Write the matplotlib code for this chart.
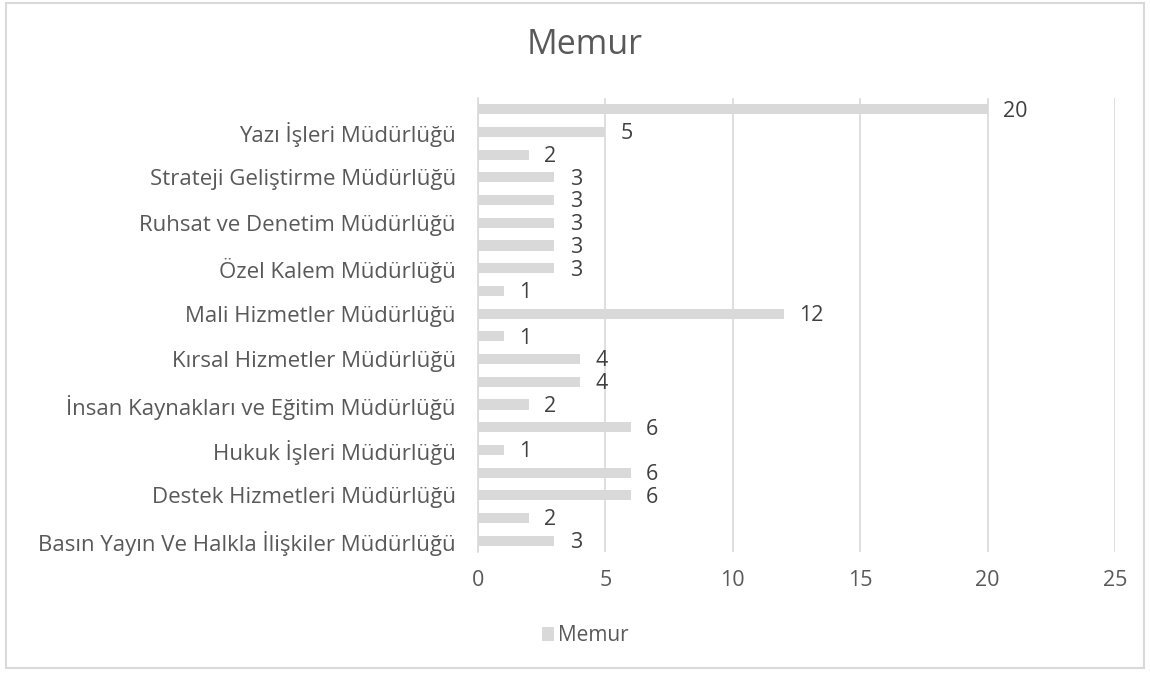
import matplotlib.pyplot as plt
from matplotlib.patches import Rectangle

# Departments, bottom to top (every second label is hidden on the axis, as in Excel)
departments = [
    'Basın Yayın Ve Halkla İlişkiler Müdürlüğü',
    'Bilgi İşlem Müdürlüğü',
    'Destek Hizmetleri Müdürlüğü',
    'Emlak ve İstimlak Müdürlüğü',
    'Hukuk İşleri Müdürlüğü',
    'İmar ve Şehircilik Müdürlüğü',
    'İnsan Kaynakları ve Eğitim Müdürlüğü',
    'Kadın ve Aile Hizmetleri Müdürlüğü',
    'Kırsal Hizmetler Müdürlüğü',
    'Kültür ve Sosyal İşler Müdürlüğü',
    'Mali Hizmetler Müdürlüğü',
    'Muhtarlık İşleri Müdürlüğü',
    'Özel Kalem Müdürlüğü',
    'Park ve Bahçeler Müdürlüğü',
    'Ruhsat ve Denetim Müdürlüğü',
    'Sağlık İşleri Müdürlüğü',
    'Strateji Geliştirme Müdürlüğü',
    'Veteriner İşleri Müdürlüğü',
    'Yazı İşleri Müdürlüğü',
    'Zabıta Müdürlüğü',
]
memur = [3, 2, 6, 6, 1, 6, 2, 4, 4, 1, 12, 1, 3, 3, 3, 3, 3, 2, 5, 20]
xticks = [0, 5, 10, 15, 20, 25]

plt.rcParams['font.family'] = ['Open Sans', 'DejaVu Sans']

bar_color = '#d9d9d9'
text_color = '#595959'

fig = plt.figure(figsize=(11.5, 6.75), dpi=100)
ax = fig.add_axes([0.4157, 0.182, 0.5539, 0.673])

y = list(range(len(departments)))
bars = ax.barh(y, memur, height=0.45, color=bar_color, label='Memur', zorder=3)
for yi, v in zip(y, memur):
    ax.text(v + 0.6, yi - 0.08, str(v), va='center', ha='left',
            fontsize=15.5, color='#404040')

ax.set_xlim(0, 25)
ax.set_ylim(-0.5, len(departments) - 0.5)
ax.set_xticks(xticks)
ax.set_xticklabels([str(t) for t in xticks], fontsize=15.5, color=text_color)
ax.set_yticks(y)
ax.set_yticklabels([d if i % 2 == 0 else '' for i, d in enumerate(departments)],
                   fontsize=16, color=text_color)
ax.tick_params(axis='both', length=0)
ax.tick_params(axis='x', pad=13)
ax.tick_params(axis='y', pad=16)

ax.grid(axis='x', color=bar_color, linewidth=1.2, zorder=0)
for s in ['top', 'right', 'bottom']:
    ax.spines[s].set_visible(False)
ax.spines['left'].set_color(bar_color)
ax.spines['left'].set_linewidth(1.2)

fig.text(0.508, 0.933, 'Memur', ha='center', va='center', fontsize=24.5, color=text_color)

leg = fig.legend(handles=[bars], labels=['Memur'], loc='center', bbox_to_anchor=(0.509, 0.058),
                 frameon=False, fontsize=15, handlelength=0.6, handleheight=0.6,
                 handletextpad=0.2)
for t in leg.get_texts():
    t.set_color(text_color)

# light frame around the whole chart
fig.patches.append(Rectangle((0.005, 0.01), 0.99, 0.985, transform=fig.transFigure,
                             fill=False, edgecolor=bar_color, linewidth=1.5))

fig.savefig('out.png', dpi=100)
